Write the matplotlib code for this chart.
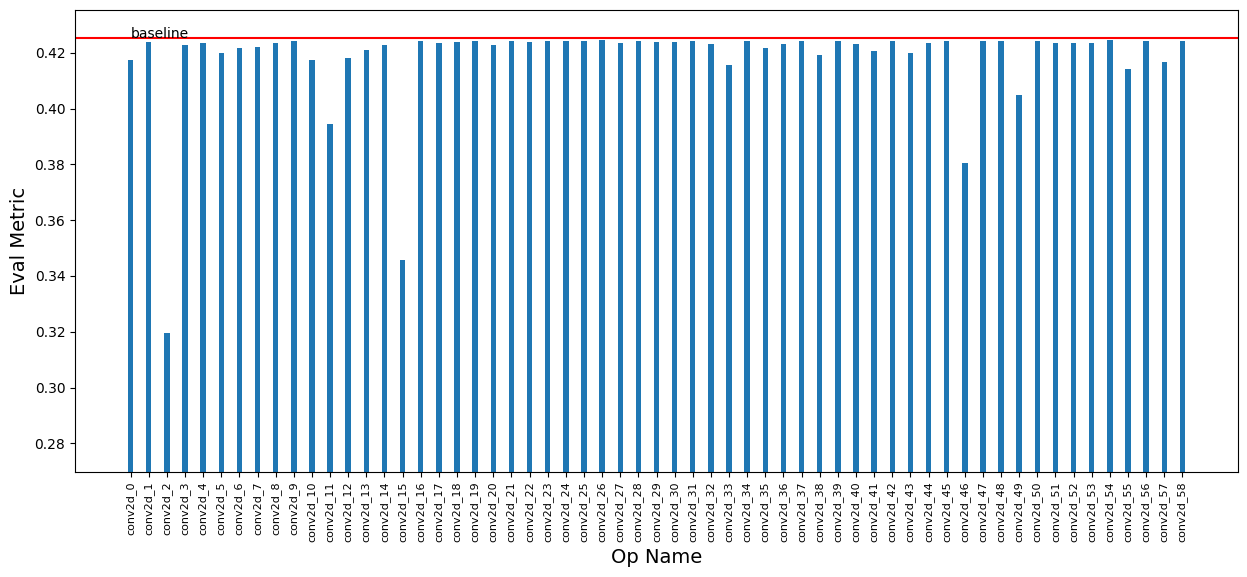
import matplotlib.pyplot as plt
import numpy as np

op_names = [f'conv2d_{i}' for i in range(59)]
metrics = [
    0.4174, 0.4238, 0.3197, 0.4228, 0.4235, 0.4199, 0.4217, 0.4220, 0.4235, 0.4242,
    0.4174, 0.3944, 0.4181, 0.4210, 0.4228, 0.3459, 0.4242, 0.4235, 0.4238, 0.4242,
    0.4228, 0.4242, 0.4238, 0.4242, 0.4242, 0.4242, 0.4246, 0.4235, 0.4242, 0.4238,
    0.4238, 0.4242, 0.4231, 0.4156, 0.4242, 0.4217, 0.4231, 0.4242, 0.4192, 0.4242,
    0.4231, 0.4206, 0.4242, 0.4199, 0.4235, 0.4242, 0.3804, 0.4242, 0.4242, 0.4048,
    0.4242, 0.4235, 0.4235, 0.4235, 0.4246, 0.4141, 0.4242, 0.4167, 0.4242,
]
baseline = 0.4254

fig = plt.figure(figsize=(12.47, 5.77), dpi=100)
ax = fig.add_axes([75 / 1247, 105 / 577, 1163 / 1247, 462 / 577])

x = np.arange(len(op_names))
ax.bar(x, metrics, width=0.3)
ax.axhline(baseline, color='r')
ax.text(0, baseline, 'baseline')
ax.set_ylim(min(metrics) - 0.05, baseline + 0.01)
ax.set_xticks(x)
ax.set_xticklabels(op_names, rotation=90, fontsize=8)
ax.set_xlabel('Op Name', fontsize=14)
ax.set_ylabel('Eval Metric', fontsize=14)

plt.savefig('out.png')
